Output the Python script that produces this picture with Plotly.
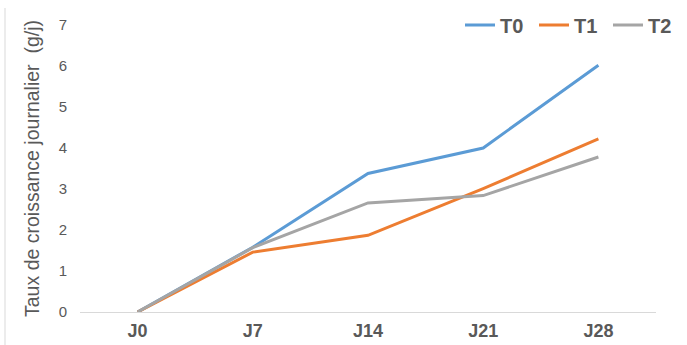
import plotly.graph_objects as go

# Sampling days and daily growth rate (g/j) per treatment
jours = ["J0", "J7", "J14", "J21", "J28"]
t0 = [0, 1.58, 3.38, 4.00, 6.02]
t1 = [0, 1.46, 1.87, 3.01, 4.22]
t2 = [0, 1.57, 2.66, 2.84, 3.78]

series = [("T0", t0, "#5B9BD5"), ("T1", t1, "#ED7D31"), ("T2", t2, "#A5A5A5")]

fig = go.Figure()
for name, vals, color in series:
    fig.add_trace(go.Scatter(
        x=jours, y=vals, name=name, mode="lines",
        line=dict(color=color, width=3),
    ))

fig.update_layout(
    width=687, height=345,
    margin=dict(l=80, r=31, t=25, b=33, autoexpand=False),
    paper_bgcolor="white", plot_bgcolor="white",
    font=dict(family="Liberation Sans, Arial, sans-serif", color="#595959"),
    showlegend=True,
    legend=dict(
        orientation="h", xref="container", yref="container",
        x=682 / 687, xanchor="right", y=1 - 25 / 345, yanchor="middle",
        font=dict(size=20, color="#595959", family="Liberation Sans, Arial, sans-serif", weight="bold"),
        bgcolor="rgba(0,0,0,0)", itemwidth=30, tracegroupgap=0,
        entrywidth=29, entrywidthmode="pixels",
    ),
    xaxis=dict(
        type="category", range=[-0.5, 4.5],
        showline=True, linecolor="#D9D9D9", linewidth=1,
        showgrid=False, zeroline=False, ticks="",
        tickfont=dict(size=18, color="#595959", weight="bold"),
        ticklabelstandoff=2,
    ),
    yaxis=dict(
        range=[0, 7], dtick=1, showgrid=False, zeroline=False,
        showline=False, ticks="",
        tickfont=dict(size=15, color="#595959"),
        ticklabelstandoff=12,
        title=dict(text="Taux de croissance journalier  (g/j)",
                   font=dict(size=19.5, color="#595959"), standoff=13),
    ),
    shapes=[dict(
        type="line", xref="paper", yref="paper",
        x0=(5 - 80) / 576, x1=(5 - 80) / 576,
        y0=(312 - 8) / 287, y1=(312 - 345) / 287,
        line=dict(color="#D9D9D9", width=1),
    )],
)

fig.write_html("out.html")
